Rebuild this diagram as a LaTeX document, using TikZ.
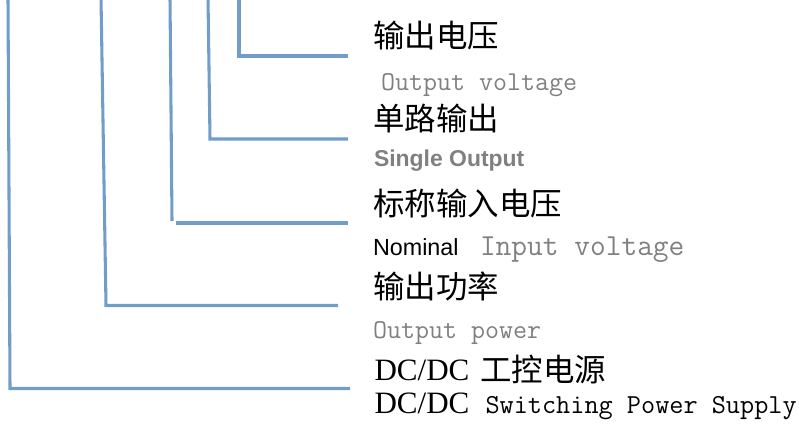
\documentclass[tikz,border=0pt]{standalone}
\usepackage{fontspec}
\newfontfamily\cjkf{Noto Sans CJK SC}
\newfontfamily\arialf{Liberation Sans}
\newfontfamily\tnrf{Liberation Serif}
\definecolor{linecol}{RGB}{114,157,200}
\definecolor{graytxt}{RGB}{128,128,128}
\definecolor{graybold}{RGB}{128,128,128}
\tikzset{
  lead/.style={draw=linecol, line width=2.3pt, line join=miter},
  txt/.style={anchor=base west, inner sep=0pt, outer sep=0pt},
  zh/.style={txt, font=\cjkf\fontsize{23.6pt}{28pt}\selectfont, text=black},
  en/.style={txt, font=\ttfamily\fontsize{20.4pt}{24pt}\selectfont, text=graytxt},
  enbig/.style={txt, font=\ttfamily\fontsize{22.9pt}{26pt}\selectfont, text=graytxt},
  sans/.style={txt, font=\arialf\fontsize{17.5pt}{21pt}\selectfont},
  serif/.style={txt, font=\tnrf\fontsize{23.3pt}{28pt}\selectfont, text=black}
}
\begin{document}
\begin{tikzpicture}[x=0.75pt,y=-0.75pt]
\useasboundingbox (0,0) rectangle (799,436);
% texts
\node[zh] (t1) at (373.5,47) {输出电压};
\node[en] (e1) at (381,90) {Output voltage};
\node[zh] (t2) at (373.5,130) {单路输出};
\node[sans, font=\arialf\bfseries\fontsize{17.2pt}{21pt}\selectfont, text=graybold] (e2) at (374,166) {Single Output};
\node[zh] (t3) at (373.5,215) {标称输入电压};
\node[sans, text=black] (e3a) at (373,255) {Nominal};
\node[enbig] (e3b) at (480,255) {Input voltage};
\node[zh] (t4) at (373.5,298) {输出功率};
\node[en] (e4) at (373,338) {Output power};
\node[serif] (t5a) at (374.5,380) {DC/DC};
\node[zh] (t5b) at (480.5,381) {工控电源};
\node[serif] (e5a) at (374.5,413) {DC/DC};
\node[en, text=black, font=\ttfamily\fontsize{20.6pt}{24pt}\selectfont] (e5b) at (485.5,413) {Switching Power Supply};
% connector points
\coordinate (a0) at (239,-2);
\coordinate (a1) at (239,56);
\coordinate (a2) at (348,56);
\coordinate (b0) at (208,-2);
\coordinate (b1) at (210,139);
\coordinate (b2) at (348,139);
\coordinate (c0) at (170,-2);
\coordinate (c1) at (172,221);
\coordinate (c2) at (176,223);
\coordinate (c3) at (348,223);
\coordinate (d0) at (101,-2);
\coordinate (d1) at (106,305.5);
\coordinate (d2) at (338,305.5);
\coordinate (f0) at (8,-2);
\coordinate (f1) at (10,388.5);
\coordinate (f2) at (350,388.5);
% connectors
\draw[lead] (a0) -- (a1) -- (a2);
\draw[lead] (b0) -- (b1) -- (b2);
\draw[lead] (c0) -- (c1);
\draw[lead] (c2) -- (c3);
\draw[lead] (d0) -- (d1) -- (d2);
\draw[lead] (f0) -- (f1) -- (f2);
\end{tikzpicture}
\end{document}
